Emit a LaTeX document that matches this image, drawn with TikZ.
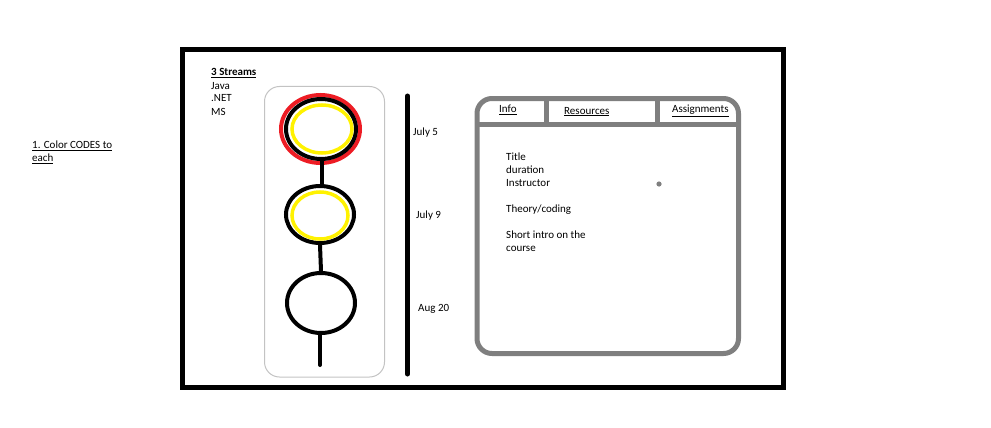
\documentclass[tikz,border=0pt]{standalone}
\usepackage{fontspec}
\setmainfont{Carlito}
\usetikzlibrary{shapes.geometric}
\definecolor{panelgray}{RGB}{127,127,127}
\definecolor{boxgray}{RGB}{195,195,195}
\definecolor{ringred}{RGB}{237,28,36}
\definecolor{ringyellow}{RGB}{255,242,0}
\begin{document}
\begin{tikzpicture}[x=1pt,y=-1pt,
  txt/.style={font=\fontsize{11}{13}\selectfont, inner sep=0, anchor=base west},
  ring/.style={ellipse, draw, inner sep=0, minimum width=#1},
  link/.style={draw=black, line width=4pt},
  panel/.style={draw=panelgray, line width=5pt}]
\useasboundingbox (0,0) rectangle (991,428);
% outer frame
\draw[line width=5pt] (182.5,49.5) rectangle (783.3,387.5);
% left note
\node[txt] (note1) at (32,148.5) {\underline{1. Color CODES to}};
\node[txt] (note2) at (32,161.5) {\underline{each}};
% streams
\node[txt] (st0) at (211,76) {\textbf{\underline{3 Streams}}};
\node[txt] (st1) at (211,89) {Java};
\node[txt] (st2) at (211,102) {.NET};
\node[txt] (st3) at (211,115) {MS};
% light box
\draw[boxgray, line width=1pt, rounded corners=15pt] (264.5,86.5) rectangle (384.5,377);
% rings
\node[ring=79pt, minimum height=68pt, draw=ringred, line width=4pt] (r1) at (320.5,129) {};
\node[ring=70pt, minimum height=60pt, draw=black, line width=4pt] (c1) at (321,129) {};
\node[ring=60pt, minimum height=48pt, draw=ringyellow, line width=3.5pt] (y1) at (322,129) {};
\node[ring=68pt, minimum height=57pt, draw=black, line width=4pt] (c2) at (320,214.5) {};
\node[ring=56pt, minimum height=47pt, draw=ringyellow, line width=3.5pt] (y2) at (320,215.5) {};
\node[ring=68pt, minimum height=60pt, draw=black, line width=4pt] (c3) at (321,303) {};
\coordinate (tail) at (320,365);
\draw[link] ([xshift=1pt]c1.south) -- ([xshift=2pt]c2.north);
\draw[link] (c2.south) -- (c3.north);
\draw[link, line cap=round] ([xshift=-1pt]c3.south) -- (tail);
% timeline
\coordinate (tl1) at (407.5,96);
\coordinate (tl2) at (407.5,374);
\draw[line width=5pt, line cap=round] (tl1) -- (tl2);
\node[txt] (d1) at (413,135) {July 5};
\node[txt] (d2) at (416,218) {July 9};
\node[txt] (d3) at (418,311) {Aug 20};
% right panel
\draw[panel, rounded corners=15pt] (477,98.5) rectangle (738.5,353.5);
\coordinate (hl) at (477,124.5);
\coordinate (hr) at (738.5,124.5);
\draw[panel] (hl) -- (hr);
\coordinate (v1t) at (546.5,98.5);
\coordinate (v1b) at (546.5,124.5);
\coordinate (v2t) at (657.5,98.5);
\coordinate (v2b) at (657.5,124.5);
\draw[panel] (v1t) -- (v1b);
\draw[panel] (v2t) -- (v2b);
\node[txt] (t1) at (499,112.5) {\underline{Info}};
\node[txt] (t2) at (564,114) {\underline{Resources}};
\node[txt] (t3) at (672,112.5) {\underline{Assignments}};
\node[txt] (i1) at (506,160) {Title};
\node[txt] (i2) at (506,173) {duration};
\node[txt] (i3) at (506,186) {Instructor};
\node[txt] (i4) at (506,212) {Theory/coding};
\node[txt] (i5) at (506,238) {Short intro on the};
\node[txt] (i6) at (506,251) {course};
\fill[panelgray] (659,184) circle (2.6pt);
\end{tikzpicture}
\end{document}
